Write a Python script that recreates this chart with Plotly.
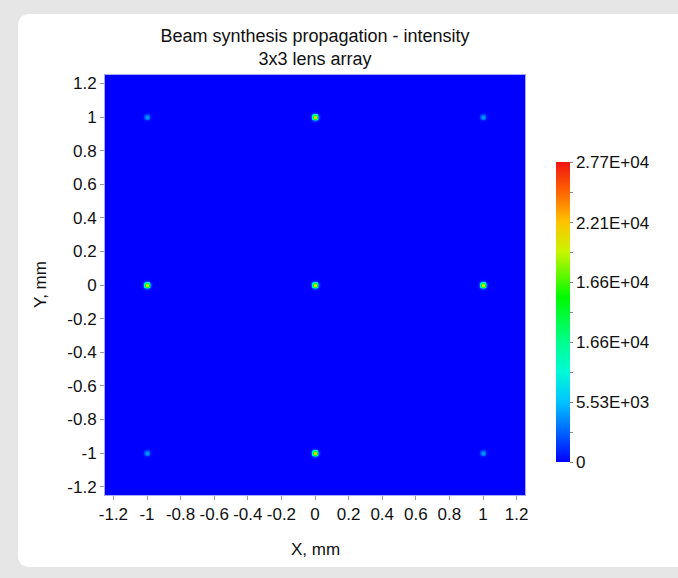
import numpy as np
import plotly.graph_objects as go

# ---- data ----
spot_x = [-1.0, 0.0, 1.0, -1.0, 0.0, 1.0, -1.0, 0.0, 1.0]
spot_y = [1.0, 1.0, 1.0, 0.0, 0.0, 0.0, -1.0, -1.0, -1.0]
spot_peak = [4600, 23000, 4600, 22500, 22500, 22500, 4600, 23000, 4600]
spot_sigma = 0.011  # mm
grid_step = 0.005
x_range = [-1.25, 1.25]
tick_vals = [-1.2, -1.0, -0.8, -0.6, -0.4, -0.2, 0.0, 0.2, 0.4, 0.6, 0.8, 1.0, 1.2]
tick_text = ["-1.2", "-1", "-0.8", "-0.6", "-0.4", "-0.2", "0", "0.2", "0.4", "0.6", "0.8", "1", "1.2"]
cbar_vals = [0, 2765, 5530, 8295, 11060, 13830, 16600, 19350, 22100, 24900, 27700]
cbar_text = ["0", "", "5.53E+03", "", "1.66E+04", "", "1.66E+04", "", "2.21E+04", "", "2.77E+04"]
z_max = 27700

# ---- build intensity grid from spots ----
xs = np.arange(x_range[0], x_range[1] + grid_step / 2, grid_step)
ys = np.arange(x_range[0], x_range[1] + grid_step / 2, grid_step)
X, Y = np.meshgrid(xs, ys)
Z = np.zeros_like(X)
for sx, sy, pk in zip(spot_x, spot_y, spot_peak):
    Z += pk * np.exp(-((X - sx) ** 2 + (Y - sy) ** 2) / (2 * spot_sigma ** 2))

colorscale = [
    [0.0, "rgb(0,0,255)"],
    [0.1, "rgb(0,100,255)"],
    [0.2, "rgb(0,195,255)"],
    [0.3, "rgb(0,250,215)"],
    [0.4, "rgb(0,255,140)"],
    [0.55, "rgb(0,250,0)"],
    [0.7, "rgb(200,245,0)"],
    [0.8, "rgb(255,195,0)"],
    [0.9, "rgb(255,100,0)"],
    [1.0, "rgb(240,20,20)"],
]

W, H = 678, 578
L, T, PW, PH = 105, 75, 420, 420
FONT = "Liberation Sans, Arial, Helvetica, sans-serif"
TICK_SIZE = 17
TITLE_SIZE = 18


def px2x(p):
    return (p - L) / PW


def py2y(p):
    return (T + PH - p) / PH


fig = go.Figure()
fig.add_trace(go.Heatmap(
    x=xs, y=ys, z=Z, zmin=0, zmax=z_max, colorscale=colorscale,
    zsmooth="best", hoverinfo="skip",
    colorbar=dict(
        x=px2x(556), xanchor="left",
        y=py2y(462), yanchor="bottom",
        len=300, lenmode="pixels",
        thickness=14, thicknessmode="pixels",
        outlinewidth=0,
        tickmode="array", tickvals=cbar_vals, ticktext=cbar_text,
        ticks="outside", ticklen=3, tickcolor="#888", tickwidth=1,
        tickfont=dict(family=FONT, size=TICK_SIZE, color="#111"),
        xpad=0, ypad=0,
    ),
))

# rounded white card
cx0, cx1, cy0, cy1, r = 18, 720, 14, 567, 12
path = (
    f"M {px2x(cx0 + r)},{py2y(cy0)} L {px2x(cx1)},{py2y(cy0)} "
    f"L {px2x(cx1)},{py2y(cy1)} L {px2x(cx0 + r)},{py2y(cy1)} "
    f"Q {px2x(cx0)},{py2y(cy1)} {px2x(cx0)},{py2y(cy1 - r)} "
    f"L {px2x(cx0)},{py2y(cy0 + r)} Q {px2x(cx0)},{py2y(cy0)} {px2x(cx0 + r)},{py2y(cy0)} Z"
)
fig.add_shape(type="path", path=path, xref="paper", yref="paper",
              fillcolor="white", line=dict(width=0), layer="below")

axis_common = dict(
    range=x_range, tickmode="array", tickvals=tick_vals, ticktext=tick_text,
    ticks="outside", ticklen=4, tickcolor="#999", tickwidth=1,
    showgrid=False, zeroline=False, showline=True, linecolor="#a8a8ff",
    linewidth=1, mirror=True,
    tickfont=dict(family=FONT, size=TICK_SIZE, color="#111"),
)
fig.update_xaxes(**axis_common)
fig.update_yaxes(**axis_common)

fig.add_annotation(text="X, mm", xref="paper", yref="paper",
                   x=0.5, y=py2y(549), showarrow=False,
                   xanchor="center", yanchor="middle",
                   font=dict(family=FONT, size=TICK_SIZE, color="#111"))
fig.add_annotation(text="Y, mm", xref="paper", yref="paper",
                   x=px2x(40), y=0.5, showarrow=False, textangle=-90,
                   xanchor="center", yanchor="middle",
                   font=dict(family=FONT, size=TICK_SIZE, color="#111"))

fig.update_layout(
    width=W, height=H,
    margin=dict(l=L, r=W - L - PW, t=T, b=H - T - PH),
    paper_bgcolor="#e6e6e6", plot_bgcolor="white",
    title=dict(text="Beam synthesis propagation - intensity<br>3x3 lens array",
               x=0.5, xref="paper", y=(H - 42) / H, yref="container",
               yanchor="middle", xanchor="center",
               font=dict(family=FONT, size=TITLE_SIZE, color="#111")),
    showlegend=False,
)

fig.write_html("out.html")
